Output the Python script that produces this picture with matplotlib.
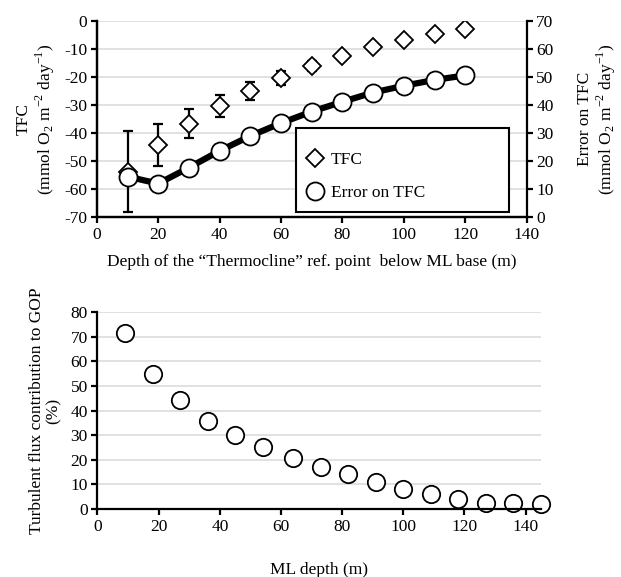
import matplotlib
matplotlib.use('Agg')
import matplotlib.pyplot as plt
from matplotlib.patches import Rectangle

# top panel: TFC vs depth of the thermocline reference point
depth_ref = [10, 20, 30, 40, 50, 60, 70, 80, 90, 100, 110, 120]
tfc = [-53.8, -44.3, -36.8, -30.4, -25.0, -20.4, -16.1, -12.7, -9.5, -7.0, -4.8, -3.0]
tfc_bar = [14.4, 7.5, 5.2, 3.9, 3.2, 2.6, 1.8, 1.2, 0.9, 0.7, 0.5, 0.4]
tfc_error = [14.4, 11.9, 17.6, 23.6, 28.9, 33.5, 37.6, 41.1, 44.4, 46.8, 48.9, 50.5]

# bottom panel: turbulent flux contribution to GOP vs ML depth
ml_depth = [9, 18, 27, 36, 45, 54, 64, 73, 82, 91, 100, 109, 118, 127, 136, 145]
contribution = [71.5, 54.9, 44.1, 35.9, 30.0, 25.1, 20.9, 17.2, 14.0, 11.0, 8.1, 6.0, 3.9, 2.6, 2.3, 1.8]

plt.rcParams['font.family'] = ['Liberation Serif', 'DejaVu Serif']
plt.rcParams['font.size'] = 12.5
plt.rcParams['axes.unicode_minus'] = False
plt.rcParams['mathtext.fontset'] = 'custom'
plt.rcParams['mathtext.rm'] = 'Liberation Serif'

unit = '(mmol O$_\\mathregular{2}$ m$^\\mathregular{-2}$ day$^\\mathregular{-1}$)'

fig = plt.figure(figsize=(6.21, 5.77), dpi=100)

def styleAxis(ax, spines):
    for s in ['left', 'right', 'top', 'bottom']:
        ax.spines[s].set_visible(s in spines)
        ax.spines[s].set_linewidth(1.6)
        ax.spines[s].set_color('black')
    ax.tick_params(direction='out', length=4, width=1.6, colors='black', pad=3)

#Top chart
ax = fig.add_axes([0.156, 0.624, 0.692, 0.340])
ax.set_xlim(0, 140)
ax.set_ylim(-70, 0)
ax.set_xticks(range(0, 141, 20))
ax.set_yticks(range(-70, 1, 10))
ax.yaxis.grid(True, color='#d9d9d9', linewidth=1.1)
ax.set_axisbelow(True)
styleAxis(ax, ['left', 'bottom'])
ax.errorbar(depth_ref, tfc, yerr=tfc_bar, fmt='none', ecolor='black', elinewidth=1.6,
            capsize=3.3, capthick=1.6, zorder=2)
diam, = ax.plot(depth_ref, tfc, linestyle='None', marker='D', markersize=9.5,
                markerfacecolor='white', markeredgecolor='black', markeredgewidth=1.3,
                label='TFC', zorder=3)
ax.set_xlabel('Depth of the \u201cThermocline\u201d ref. point  below ML base (m)', labelpad=8.5)
ax.set_ylabel('TFC\n' + unit, linespacing=1.1, labelpad=5)

ax2 = ax.twinx()
ax2.set_ylim(0, 70)
ax2.set_yticks(range(0, 71, 10))
styleAxis(ax2, ['right', 'left', 'bottom'])
ax2.plot(depth_ref, tfc_error, color='black', linewidth=4.5, zorder=2)
circ, = ax2.plot(depth_ref, tfc_error, linestyle='None', marker='o', markersize=13,
                 markerfacecolor='white', markeredgecolor='black', markeredgewidth=1.3,
                 label='Error on TFC', zorder=3)
ax2.set_ylabel('Error on TFC\n' + unit, linespacing=1.1, labelpad=17)

# legend frame drawn by hand so the entries can sit where they do in the original
ax2.add_patch(Rectangle((0.463, 0.026), 0.497, 0.428, transform=ax2.transAxes,
                        facecolor='white', edgecolor='black', linewidth=1.5, zorder=4))
leg = ax2.legend(handles=[diam, circ], loc='upper left', bbox_to_anchor=(0.483, 0.332),
                 frameon=False, borderpad=0, borderaxespad=0, labelspacing=1.0,
                 handlelength=1.2, handletextpad=0.32)
leg.set_zorder(5)

#Bottom chart
bx = fig.add_axes([0.157, 0.118, 0.714, 0.341])
bx.set_xlim(0, 145)
bx.set_ylim(0, 80)
bx.set_xticks(range(0, 141, 20))
bx.set_yticks(range(0, 81, 10))
bx.yaxis.grid(True, color='#d9d9d9', linewidth=1.1)
bx.set_axisbelow(True)
styleAxis(bx, ['left', 'bottom'])
bx.plot(ml_depth, contribution, linestyle='None', marker='o', markersize=12.5,
        markerfacecolor='white', markeredgecolor='black', markeredgewidth=1.3, clip_on=False)
bx.set_xlabel('ML depth (m)', labelpad=20)
bx.set_ylabel('Turbulent flux contribution to GOP\n(%)', linespacing=1.1, labelpad=6)

fig.savefig('out.png', dpi=100)
